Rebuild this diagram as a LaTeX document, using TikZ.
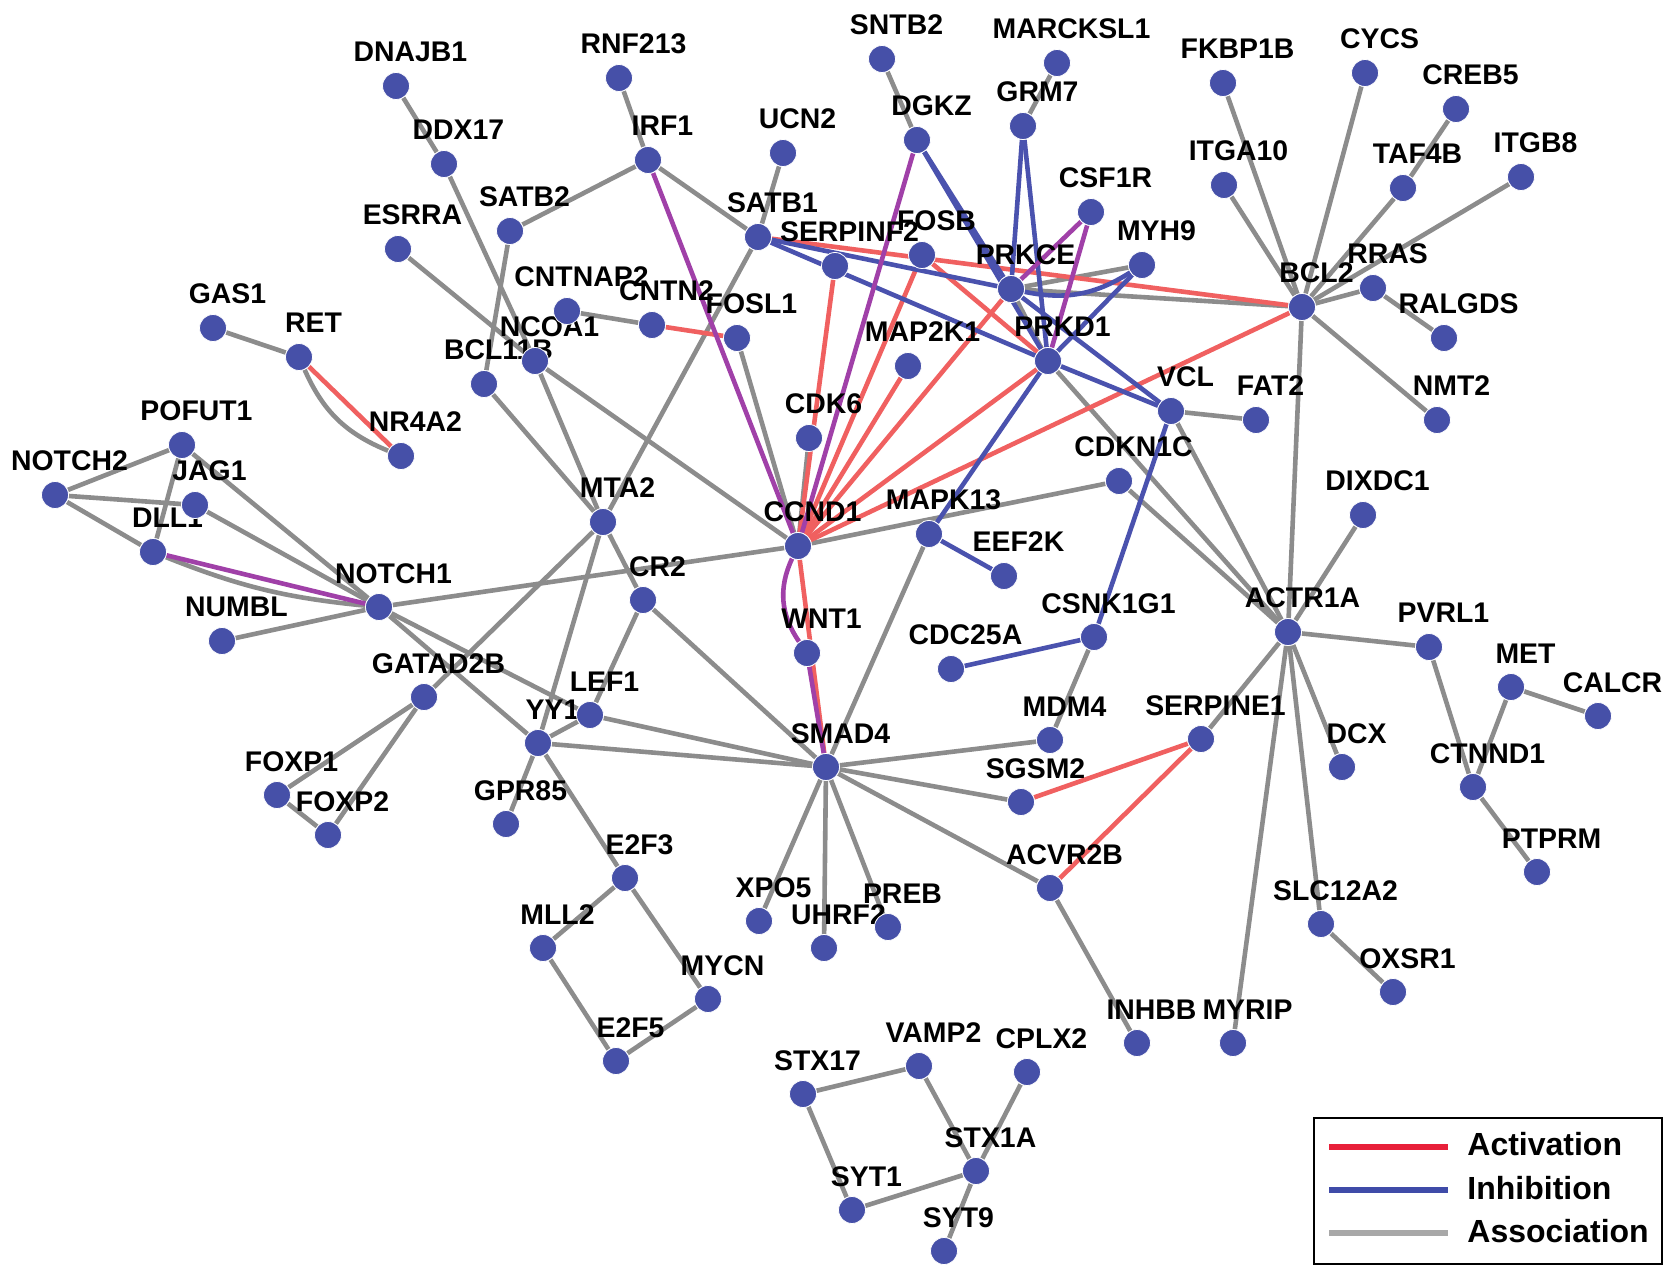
\documentclass[tikz,border=0pt]{standalone}
\usepackage{fontspec}
\setmainfont{Liberation Sans}
\usetikzlibrary{calc}
\pgfdeclarelayer{bg}
\pgfdeclarelayer{edges}
\pgfdeclarelayer{labels}
\pgfsetlayers{bg,edges,labels,main}
\definecolor{nodeblue}{RGB}{70,80,168}
\definecolor{assoc}{RGB}{140,140,140}
\definecolor{act}{RGB}{240,96,96}
\definecolor{inh}{RGB}{74,82,174}
\definecolor{mix}{RGB}{160,64,168}
\definecolor{legact}{RGB}{232,32,58}
\definecolor{leginh}{RGB}{63,75,168}
\definecolor{legass}{RGB}{168,168,168}
\tikzset{
  gnode/.style={circle,fill=nodeblue,draw=white,line width=0.4pt,minimum size=13.5pt,inner sep=0pt},
  glabel/.style={anchor=base,font=\bfseries\fontsize{14.2}{14.2}\selectfont,inner sep=0pt},
  ea/.style={draw=assoc,line width=2.3pt},
  er/.style={draw=act,line width=2.3pt},
  eb/.style={draw=inh,line width=2.3pt},
  ep/.style={draw=mix,line width=2.3pt},
  legline/.style={line width=2.8pt},
  legtext/.style={anchor=base west,font=\bfseries\fontsize{16}{16}\selectfont,inner sep=0pt}
}
\newcommand\gn[4]{\node[gnode] (#1) at (#2,#3) {};
  \begin{pgfonlayer}{labels}\node[glabel] (#1-l) at ($(#1.center)+(14.5,-24)$) {#4};\end{pgfonlayer}}
\newcommand\E[3]{\draw[#1] (#2) -- (#3);}
\begin{document}
\begin{tikzpicture}[x=0.5pt,y=-0.5pt]
\useasboundingbox (0,0) rectangle (1677,1278);
\begin{pgfonlayer}{bg}
\fill[white] (0,0) rectangle (1677,1278);
\end{pgfonlayer}
% nodes
\gn{DNAJB1}{396}{86}{DNAJB1}
\gn{DDX17}{444}{164}{DDX17}
\gn{ESRRA}{398}{249}{ESRRA}
\gn{SATB2}{510}{231}{SATB2}
\gn{GAS1}{213}{328}{GAS1}
\gn{RET}{299}{357}{RET}
\gn{BCL11B}{484}{384}{BCL11B}
\gn{NCOA1}{535}{361}{NCOA1}
\gn{CNTNAP2}{567}{311}{CNTNAP2}
\gn{CNTN2}{652}{325}{CNTN2}
\gn{FOSL1}{737}{338}{FOSL1}
\gn{MTA2}{603}{522}{MTA2}
\gn{RNF213}{619}{78}{RNF213}
\gn{IRF1}{648}{160}{IRF1}
\gn{UCN2}{783}{153}{UCN2}
\gn{SNTB2}{882}{59}{SNTB2}
\gn{MARCKSL1}{1057}{63}{MARCKSL1}
\gn{GRM7}{1023}{126}{GRM7}
\gn{DGKZ}{917}{140}{DGKZ}
\gn{SATB1}{758}{237}{SATB1}
\gn{SERPINF2}{835}{266}{SERPINF2}
\gn{FOSB}{922}{255}{FOSB}
\gn{PRKCE}{1011}{289}{PRKCE}
\gn{CSF1R}{1091}{212}{CSF1R}
\gn{MAP2K1}{908}{366}{MAP2K1}
\gn{PRKD1}{1048}{361}{PRKD1}
\gn{FKBP1B}{1223}{83}{FKBP1B}
\gn{CYCS}{1365}{73}{CYCS}
\gn{CREB5}{1456}{109}{CREB5}
\gn{ITGA10}{1224}{185}{ITGA10}
\gn{TAF4B}{1403}{188}{TAF4B}
\gn{ITGB8}{1521}{177}{ITGB8}
\gn{MYH9}{1142}{265}{MYH9}
\gn{BCL2}{1302}{307}{BCL2}
\gn{RRAS}{1373}{288}{RRAS}
\gn{RALGDS}{1444}{338}{RALGDS}
\gn{VCL}{1171}{411}{VCL}
\gn{FAT2}{1256}{420}{FAT2}
\gn{NMT2}{1437}{420}{NMT2}
\gn{POFUT1}{182}{445}{POFUT1}
\gn{NOTCH2}{55}{495}{NOTCH2}
\gn{JAG1}{195}{505}{JAG1}
\gn{DLL1}{153}{552}{DLL1}
\gn{NOTCH1}{379}{607}{NOTCH1}
\gn{NUMBL}{222}{641}{NUMBL}
\gn{NR4A2}{401}{456}{NR4A2}
\gn{GATAD2B}{424}{697}{GATAD2B}
\gn{FOXP1}{277}{795}{FOXP1}
\gn{FOXP2}{328}{835}{FOXP2}
\gn{YY1}{538}{743}{YY1}
\gn{GPR85}{506}{824}{GPR85}
\gn{CDK6}{809}{438}{CDK6}
\gn{CCND1}{798}{546}{CCND1}
\gn{MAPK13}{929}{534}{MAPK13}
\gn{EEF2K}{1004}{576}{EEF2K}
\gn{CR2}{643}{600}{CR2}
\gn{WNT1}{807}{653}{WNT1}
\gn{CDC25A}{951}{669}{CDC25A}
\gn{CSNK1G1}{1094}{637}{CSNK1G1}
\gn{LEF1}{590}{715}{LEF1}
\gn{MDM4}{1050}{740}{MDM4}
\gn{SMAD4}{826}{767}{SMAD4}
\gn{SGSM2}{1021}{802}{SGSM2}
\gn{CDKN1C}{1119}{481}{CDKN1C}
\gn{DIXDC1}{1363}{515}{DIXDC1}
\gn{ACTR1A}{1288}{632}{ACTR1A}
\gn{PVRL1}{1429}{647}{PVRL1}
\gn{MET}{1511}{687}{MET}
\gn{CALCR}{1598}{716}{CALCR}
\gn{SERPINE1}{1201}{739}{SERPINE1}
\gn{DCX}{1342}{767}{DCX}
\gn{CTNND1}{1473}{787}{CTNND1}
\gn{E2F3}{625}{878}{E2F3}
\gn{MLL2}{543}{948}{MLL2}
\gn{MYCN}{708}{999}{MYCN}
\gn{E2F5}{616}{1061}{E2F5}
\gn{XPO5}{759}{921}{XPO5}
\gn{UHRF2}{824}{948}{UHRF2}
\gn{PREB}{888}{927}{PREB}
\gn{ACVR2B}{1050}{888}{ACVR2B}
\gn{STX17}{803}{1094}{STX17}
\gn{VAMP2}{919}{1066}{VAMP2}
\gn{CPLX2}{1027}{1072}{CPLX2}
\gn{STX1A}{976}{1171}{STX1A}
\gn{SYT1}{852}{1210}{SYT1}
\gn{SYT9}{944}{1251}{SYT9}
\gn{PTPRM}{1537}{872}{PTPRM}
\gn{SLC12A2}{1321}{924}{SLC12A2}
\gn{OXSR1}{1393}{992}{OXSR1}
\gn{INHBB}{1137}{1043}{INHBB}
\gn{MYRIP}{1233}{1043}{MYRIP}
% edges
\begin{pgfonlayer}{edges}
% association
\E{ea}{DNAJB1}{DDX17}
\E{ea}{DDX17}{NCOA1}
\E{ea}{ESRRA}{NCOA1}
\E{ea}{SATB2}{IRF1}
\E{ea}{SATB2}{BCL11B}
\E{ea}{BCL11B}{MTA2}
\E{ea}{NCOA1}{MTA2}
\E{ea}{NCOA1}{CCND1}
\E{ea}{RNF213}{IRF1}
\E{ea}{IRF1}{SATB1}
\E{ea}{UCN2}{SATB1}
\E{ea}{SATB1}{MTA2}
\E{ea}{FOSL1}{CCND1}
\E{ea}{CNTNAP2}{CNTN2}
\E{ea}{SNTB2}{DGKZ}
\E{ea}{MARCKSL1}{GRM7}
\E{ea}{PRKCE}{PRKD1}
\E{ea}{PRKD1}{ACTR1A}
\E{ea}{PRKCE}{MYH9}
\E{ea}{PRKCE}{BCL2}
\E{ea}{BCL2}{FKBP1B}
\E{ea}{BCL2}{ITGA10}
\E{ea}{BCL2}{CYCS}
\E{ea}{BCL2}{TAF4B}
\E{ea}{TAF4B}{CREB5}
\E{ea}{BCL2}{ITGB8}
\E{ea}{BCL2}{RRAS}
\E{ea}{RRAS}{RALGDS}
\E{ea}{BCL2}{NMT2}
\E{ea}{BCL2}{ACTR1A}
\E{ea}{VCL}{FAT2}
\E{ea}{VCL}{ACTR1A}
\E{ea}{CDKN1C}{ACTR1A}
\E{ea}{CCND1}{CDKN1C}
\E{ea}{CDK6}{CCND1}
\E{ea}{NOTCH1}{CCND1}
\E{ea}{GAS1}{RET}
\draw[ea] (RET) to[bend right=22] (NR4A2);
\E{ea}{NOTCH2}{POFUT1}
\E{ea}{NOTCH2}{JAG1}
\E{ea}{NOTCH2}{DLL1}
\E{ea}{POFUT1}{DLL1}
\E{ea}{POFUT1}{NOTCH1}
\E{ea}{JAG1}{NOTCH1}
\draw[ea] (DLL1) to[bend right=8] (NOTCH1);
\E{ea}{NUMBL}{NOTCH1}
\E{ea}{NOTCH1}{YY1}
\E{ea}{NOTCH1}{LEF1}
\E{ea}{MTA2}{CR2}
\E{ea}{MTA2}{YY1}
\E{ea}{MTA2}{GATAD2B}
\E{ea}{CR2}{LEF1}
\E{ea}{LEF1}{YY1}
\E{ea}{CR2}{SMAD4}
\E{ea}{LEF1}{SMAD4}
\E{ea}{YY1}{SMAD4}
\E{ea}{MAPK13}{SMAD4}
\E{ea}{MDM4}{SMAD4}
\E{ea}{SGSM2}{SMAD4}
\E{ea}{SMAD4}{ACVR2B}
\E{ea}{SMAD4}{XPO5}
\E{ea}{SMAD4}{UHRF2}
\E{ea}{SMAD4}{PREB}
\E{ea}{CSNK1G1}{MDM4}
\E{ea}{SERPINE1}{ACTR1A}
\E{ea}{ACVR2B}{INHBB}
\E{ea}{ACTR1A}{MYRIP}
\E{ea}{ACTR1A}{SLC12A2}
\E{ea}{ACTR1A}{DCX}
\E{ea}{ACTR1A}{DIXDC1}
\E{ea}{ACTR1A}{PVRL1}
\E{ea}{PVRL1}{CTNND1}
\E{ea}{MET}{CTNND1}
\E{ea}{MET}{CALCR}
\E{ea}{CTNND1}{PTPRM}
\E{ea}{SLC12A2}{OXSR1}
\E{ea}{YY1}{GPR85}
\E{ea}{YY1}{E2F3}
\E{ea}{GATAD2B}{FOXP1}
\E{ea}{GATAD2B}{FOXP2}
\E{ea}{FOXP1}{FOXP2}
\E{ea}{E2F3}{MLL2}
\E{ea}{E2F3}{MYCN}
\E{ea}{MLL2}{E2F5}
\E{ea}{E2F5}{MYCN}
\E{ea}{STX17}{VAMP2}
\E{ea}{STX17}{SYT1}
\E{ea}{VAMP2}{STX1A}
\E{ea}{CPLX2}{STX1A}
\E{ea}{SYT1}{STX1A}
\E{ea}{STX1A}{SYT9}
% activation
\E{er}{CNTN2}{FOSL1}
\E{er}{SATB1}{BCL2}
\E{er}{SERPINF2}{CCND1}
\E{er}{FOSB}{CCND1}
\E{er}{MAP2K1}{CCND1}
\E{er}{PRKCE}{CCND1}
\E{er}{PRKD1}{CCND1}
\E{er}{BCL2}{CCND1}
\E{er}{FOSB}{PRKD1}
\E{er}{CCND1}{SMAD4}
\E{er}{RET}{NR4A2}
\E{er}{SGSM2}{SERPINE1}
\E{er}{ACVR2B}{SERPINE1}
% inhibition
\E{eb}{DGKZ}{PRKCE}
\E{eb}{DGKZ}{PRKD1}
\E{eb}{GRM7}{PRKCE}
\E{eb}{GRM7}{PRKD1}
\E{eb}{SATB1}{PRKCE}
\E{eb}{SATB1}{PRKD1}
\draw[eb] (PRKCE) to[bend right=22] (MYH9);
\E{eb}{MYH9}{PRKD1}
\E{eb}{PRKCE}{VCL}
\E{eb}{PRKD1}{VCL}
\E{eb}{PRKD1}{MAPK13}
\E{eb}{MAPK13}{EEF2K}
\E{eb}{CDC25A}{CSNK1G1}
\E{eb}{CSNK1G1}{VCL}
% mixed
\E{ep}{IRF1}{CCND1}
\E{ep}{DGKZ}{CCND1}
\E{ep}{CSF1R}{PRKCE}
\E{ep}{CSF1R}{PRKD1}
\E{ep}{DLL1}{NOTCH1}
\draw[ep] (CCND1) to[bend right=30] (WNT1);
\E{ep}{WNT1}{SMAD4}
\end{pgfonlayer}
% legend
\node[draw=black,line width=1.2pt,minimum width=174pt,minimum height=73pt,inner sep=0pt,anchor=north west] (legbox) at (1313,1117) {};
\coordinate (la1) at (1329,1147); \coordinate (la2) at (1448,1147);
\coordinate (lb1) at (1329,1190); \coordinate (lb2) at (1448,1190);
\coordinate (lc1) at (1329,1233); \coordinate (lc2) at (1448,1233);
\draw[legline,draw=legact] (la1) -- (la2);
\draw[legline,draw=leginh] (lb1) -- (lb2);
\draw[legline,draw=legass] (lc1) -- (lc2);
\node[legtext] (lta) at (1467,1155) {Activation};
\node[legtext] (ltb) at (1467,1199) {Inhibition};
\node[legtext] (ltc) at (1467,1242) {Association};
\end{tikzpicture}
\end{document}
